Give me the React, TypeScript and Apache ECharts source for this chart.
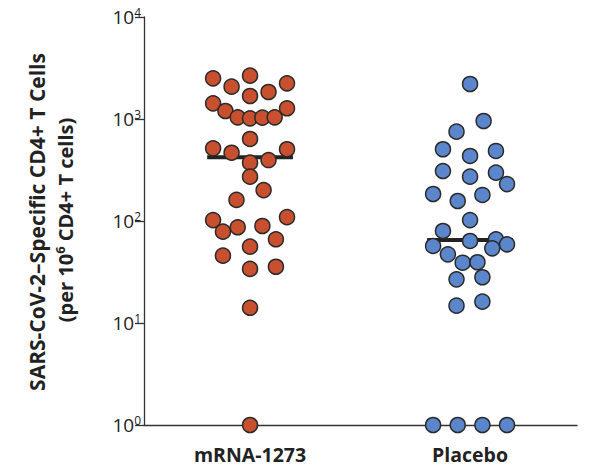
import React, { useEffect, useRef } from "react";
import * as echarts from "echarts";

const categories = ["mRNA-1273", "Placebo"];

// values (cells per 10^6 CD4+ T cells)
const mrnaValues = [
  2506, 2660, 2074, 2239, 1680, 1840, 1425, 1198, 1039, 1016, 1030, 1039, 1274,
  637, 516, 467, 505, 373, 396, 272, 201, 161, 102, 78.6, 86.8, 89.3, 109, 66.2,
  56, 45.7, 33.9, 35.6, 14.1, 1,
];
// swarm slot of each point (in dot widths from the group centre)
const mrnaSlots = [
  -3, 0, -1.5, 3, 0, 1.5, -3, -2, -1, 0, 1, 2, 3,
  0, -3, -1.5, 3, 0, 1.5, 0, 1.1, -1.1, -3, -2.2, -1, 1, 3, 2.1,
  0, -2.2, 0, 2.1, 0, 0,
];

const placeboValues = [
  2204, 956, 751, 505, 434, 486, 309, 272, 298, 230, 184, 157, 180, 102, 79.8,
  56.9, 63.7, 66.2, 54, 59.1, 47.1, 39, 39.4, 26.8, 28.1, 14.8, 16.2, 1, 1, 1, 1,
];
const placeboSlots = [
  0, 1.1, -1.1, -2.2, 0, 2.1, -2.2, 0, 2.1, 3, -3, -1, 1, 0, -2.2,
  -3, 0, 2.1, 1.8, 3, -1.8, -0.6, 0.6, -1.1, 1, -1.1, 1, -3, -1, 1, 3,
];

const medians = [421, 65];

const SLOT = 0.056;
const HALF_MEDIAN = 0.195;

export default function App() {
  const ref = useRef<HTMLDivElement>(null);
  useEffect(() => {
    if (!ref.current) return;
    const chart = echarts.init(ref.current, null, { renderer: "svg" });
    const toPts = (vals: number[], slots: number[], c: number) =>
      vals.map((v, i) => [c + slots[i] * SLOT, v]);
    const medianLine = (c: number, m: number) => [
      [c - HALF_MEDIAN, m],
      [c + HALF_MEDIAN, m],
    ];
    const font = "'Open Sans', 'Liberation Sans', sans-serif";
    chart.setOption({
      animation: false,
      grid: { left: 144, right: 13, top: 17, bottom: 43, containLabel: false },
      xAxis: {
        type: "value",
        min: -0.482,
        max: 1.486,
        splitLine: { show: false },
        axisTick: { show: false },
        axisLine: { show: true, lineStyle: { color: "#333", width: 1.3 } },
        axisLabel: {
          customValues: [0, 1],
          formatter: (v: number) => categories[Math.round(v)] ?? "",
          fontFamily: font,
          fontWeight: "bold",
          fontSize: 19.5,
          color: "#222",
          margin: 19,
        },
      },
      yAxis: {
        type: "log",
        logBase: 10,
        min: 1,
        max: 10000,
        splitLine: { show: false },
        axisLine: { show: true, onZero: false, lineStyle: { color: "#333", width: 1.3 } },
        axisTick: { show: true, length: 9, lineStyle: { color: "#333", width: 1.3 } },
        axisLabel: {
          margin: 3,
          formatter: (v: number) => `{b|10}{s|${Math.round(Math.log10(v))}}`,
          rich: {
            b: { fontFamily: font, fontSize: 19, color: "#222" },
            s: { fontFamily: font, fontSize: 12, color: "#222", padding: [0, 0, 9, 0] },
          },
        },
      },
      graphic: [
        {
          type: "text",
          x: 37,
          y: 222,
          rotation: Math.PI / 2,
          style: {
            text: "SARS-CoV-2–Specific CD4+ T Cells",
            fontFamily: font,
            fontWeight: "bold",
            fontSize: 21,
            fill: "#222",
            align: "center",
            verticalAlign: "middle",
          },
        },
        {
          type: "text",
          x: 65,
          y: 220,
          rotation: Math.PI / 2,
          style: {
            text: "{a|(per 10}{s|6}{a| CD4+ T cells)}",
            rich: {
              a: { fontFamily: font, fontWeight: "bold", fontSize: 20, fill: "#222" },
              s: { fontFamily: font, fontWeight: "bold", fontSize: 13, fill: "#222", padding: [0, 0, 10, 0] },
            },
            align: "center",
            verticalAlign: "middle",
          },
        },
      ],
      series: [
        {
          type: "line",
          data: medianLine(0, medians[0]),
          symbol: "none",
          lineStyle: { color: "#222", width: 4 },
          z: 1,
        },
        {
          type: "line",
          data: medianLine(1, medians[1]),
          symbol: "none",
          lineStyle: { color: "#222", width: 4 },
          z: 1,
        },
        {
          type: "scatter",
          data: toPts(mrnaValues, mrnaSlots, 0),
          symbolSize: 15,
          itemStyle: { color: "#C9502F", borderColor: "#2a2a2a", borderWidth: 1.5, opacity: 1 },
          z: 3,
        },
        {
          type: "scatter",
          data: toPts(placeboValues, placeboSlots, 1),
          symbolSize: 15,
          itemStyle: { color: "#5B86CB", borderColor: "#2a2a2a", borderWidth: 1.5, opacity: 1 },
          z: 3,
        },
      ],
    });
    return () => chart.dispose();
  }, []);
  return (
    <div
      ref={ref}
      style={{ position: "fixed", left: 0, top: 0, width: 590, height: 468, background: "#fff" }}
    />
  );
}
